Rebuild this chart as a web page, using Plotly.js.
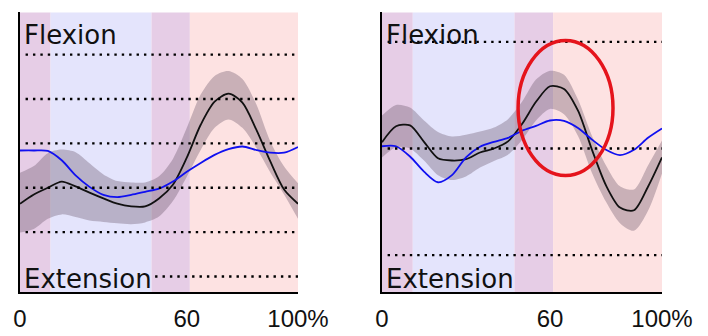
<!DOCTYPE html>
<html>
<head>
<meta charset="utf-8">
<script src="https://cdn.plot.ly/plotly-3.0.1.min.js"></script>
<style>html,body{margin:0;padding:0;background:#fff;}#chart{width:708px;height:336px;}</style>
</head>
<body>
<div id="chart"></div>
<script>
// % of gait cycle
const pct = [0,5,10,15,20,25,30,35,40,45,50,55,60,65,70,75,80,85,90,95,100];

// Left panel: normative mean, normative band (upper/lower), patient
const leftMean    = [16.4,18.5,20.0,21.4,20.3,18.9,17.6,16.4,15.8,15.8,17.6,20.7,26.8,34.2,39.4,41.2,39.2,33.1,26.0,19.6,16.4];
const leftUpper   = [23.4,24.9,27.8,28.6,28.0,25.5,23.0,21.5,21.2,21.2,22.6,26.5,33.5,41.0,45.2,46.3,44.5,38.8,30.5,24.8,21.0];
const leftLower   = [9.9,10.7,13.0,14.0,13.4,12.6,12.3,12.0,11.8,12.2,13.5,17.0,22.5,28.5,33.5,35.4,33.5,29.0,23.5,18.5,13.0];
const leftPatient = [28.4,28.4,28.3,26.2,22.8,20.2,18.4,17.9,18.4,19.1,19.8,21.4,23.6,25.6,27.4,28.7,29.3,28.5,27.9,27.9,29.2];

// Right panel
const rightMean    = [1.4,5.0,5.2,1.5,-2.2,-2.7,-2.4,-0.9,0.0,1.6,5.5,10.5,14.0,13.4,8.5,-0.3,-8.3,-13.3,-13.9,-8.6,-2.0];
const rightUpper   = [7.4,9.8,9.2,6.3,3.7,2.7,3.1,3.8,4.7,6.6,10.5,15.5,17.5,16.6,11.0,2.8,-3.8,-8.5,-9.2,-3.8,1.8];
const rightLower   = [-2.0,0.3,0.0,-2.7,-6.0,-7.1,-6.3,-4.3,-2.8,-1.4,1.9,6.3,8.9,7.7,2.8,-5.5,-12.0,-16.8,-18.5,-14.0,-5.6];
const rightPatient = [0.5,0.5,-1.8,-5.2,-7.6,-6.0,-2.0,0.4,1.5,2.4,4.0,5.1,6.3,6.2,4.6,2.0,-0.3,-1.5,-0.3,2.4,4.5];

// Gait phase boundaries (% cycle) and their shading
const phaseEdges = [0,11,47.3,61.1,100];
const phaseColors = ['#e6cde6','#e4e4fc','#e6cde6','#fde2e2'];

// Dotted reference levels
const leftLevels  = [0,10,20,30,40,50];
const rightLevels = [-24,0,24];

// Axis labels
const tickVals = [0,60,100];
const tickText = ['0','60','100%'];
const topLabel = 'Flexion';
const bottomLabel = 'Extension';

// Highlight region on right panel (x %, y)
const highlightX = [48.6,82.5];
const highlightY = [-6.1,24.3];

const bandFill = 'rgba(100,78,100,0.34)';
const meanColor = '#111111';
const patientColor = '#1010f0';

function panel(xa, ya, mean, up, lo, pat){
  return [
    {x:pct, y:up, xaxis:xa, yaxis:ya, mode:'lines', line:{width:0, shape:'spline', smoothing:0.8}, hoverinfo:'skip', showlegend:false},
    {x:pct, y:lo, xaxis:xa, yaxis:ya, mode:'lines', fill:'tonexty', fillcolor:bandFill, line:{width:0, shape:'spline', smoothing:0.8}, hoverinfo:'skip', showlegend:false},
    {x:pct, y:mean, xaxis:xa, yaxis:ya, mode:'lines', line:{color:meanColor, width:1.8, shape:'spline', smoothing:0.8}, showlegend:false},
    {x:pct, y:pat, xaxis:xa, yaxis:ya, mode:'lines', line:{color:patientColor, width:1.8, shape:'spline', smoothing:0.8}, showlegend:false}
  ];
}

const data = [].concat(
  panel('x','y', leftMean, leftUpper, leftLower, leftPatient),
  panel('x2','y2', rightMean, rightUpper, rightLower, rightPatient)
);

const shapes = [];
['x','x2'].forEach(function(xr){
  const yr = xr === 'x' ? 'y domain' : 'y2 domain';
  for (let i = 0; i < phaseColors.length; i++){
    shapes.push({type:'rect', xref:xr, yref:yr, x0:phaseEdges[i], x1:phaseEdges[i+1], y0:0, y1:1,
      fillcolor:phaseColors[i], line:{width:0}, layer:'below'});
  }
});
const dotLine = {color:'#000', width:2.4, dash:'2.4px,5px'};
leftLevels.forEach(function(v, i){
  shapes.push({type:'line', xref:'x', yref:'y', x0:(i === 0 ? 48.6 : 2), x1:100, y0:v, y1:v, line:dotLine, layer:'above'});
});
rightLevels.forEach(function(v){
  shapes.push({type:'line', xref:'x2', yref:'y2', x0:2, x1:100, y0:v, y1:v, line:dotLine, layer:'above'});
});
shapes.push({type:'circle', xref:'x2', yref:'y2', x0:highlightX[0], x1:highlightX[1], y0:highlightY[0], y1:highlightY[1],
  line:{color:'#e5141c', width:3.5}, layer:'above'});

const labFont = {family:'DejaVu Sans', size:26, color:'#111'};
const annotations = [];
[['x','y'],['x2','y2']].forEach(function(p){
  annotations.push({xref:p[0]+' domain', yref:p[1]+' domain', x:0.009, y:1, xanchor:'left', yanchor:'top', yshift:-7,
    text:topLabel, showarrow:false, font:labFont, borderpad:0});
  annotations.push({xref:p[0]+' domain', yref:p[1]+' domain', x:0.009, y:0, xanchor:'left', yanchor:'bottom', yshift:-3,
    text:bottomLabel, showarrow:false, font:labFont, borderpad:0});
});

function xAxis(dom, anchor){
  return {domain:dom, anchor:anchor, range:[0,100], showgrid:false, zeroline:false, showline:true, linecolor:'#000', linewidth:2,
    tickvals:tickVals, ticktext:tickText, ticks:'', ticklabelstandoff:4,
    tickfont:{family:'Liberation Sans', size:24, color:'#111'}, fixedrange:true};
}
function yAxis(range, anchor){
  return {domain:[0.1295,0.9628], anchor:anchor, range:range, showgrid:false, zeroline:false, showline:true, linecolor:'#000', linewidth:2,
    showticklabels:false, ticks:'', fixedrange:true};
}

const layout = {
  width:708, height:336,
  margin:{l:0, r:0, t:0, b:0},
  paper_bgcolor:'#fff', plot_bgcolor:'rgba(0,0,0,0)',
  showlegend:false,
  xaxis:xAxis([0.02825,0.42090],'y'),
  yaxis:yAxis([-3.6,59.5],'x'),
  xaxis2:xAxis([0.53955,0.93503],'y2'),
  yaxis2:yAxis([-32.4,30.6],'x2'),
  shapes:shapes,
  annotations:annotations
};

Plotly.newPlot('chart', data, layout, {staticPlot:true, displayModeBar:false});
</script>
</body>
</html>
